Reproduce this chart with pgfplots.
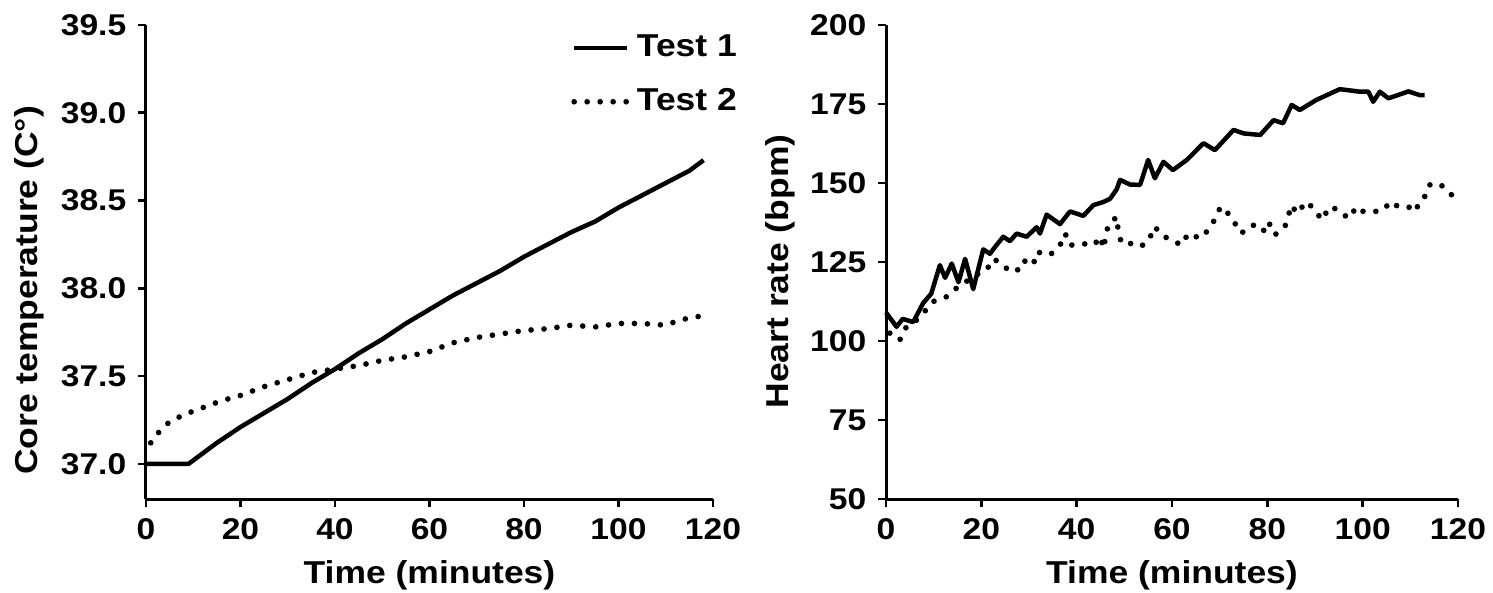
\documentclass[border=0pt]{standalone}
\usepackage{fontspec}
\setmainfont{Liberation Sans}[FakeStretch=1.12]
\usepackage{pgfplots}
\pgfplotsset{compat=1.18}

\pgfplotsset{
  panel/.style={
    scale only axis,
    height=142.2pt,
    xmin=0, xmax=120, xtick={0,20,...,120},
    axis x line*=bottom, axis y line*=left,
    axis line style={line width=0.9pt, -},
    tick align=outside, major tick length=2.4pt,
    tick style={line width=0.8pt, black},
    ticklabel style={font=\fontsize{9}{10}\selectfont\bfseries},
    /pgf/number format/assume math mode=true,
    label style={font=\fontsize{9.5}{11}\selectfont\bfseries},
    xlabel={Time (minutes)},
    xlabel style={at={(axis description cs:0.5,-0.16)}, anchor=center},
    clip=false,
  },
  test1/.style={black, line width=1.35pt, line join=round},
  test2/.style={black, line width=1.7pt, line cap=round, dash pattern=on 0pt off 3.9pt},
}

\begin{document}
\begin{tikzpicture}
\useasboundingbox (-43.8pt,-27.9pt) rectangle (404.1pt,149.7pt);

% core temperature
\begin{axis}[
    panel,
    width=170.1pt,
    ymin=36.8, ymax=39.5,
    ytick={37,37.5,...,39.5},
    yticklabel style={/pgf/number format/.cd, fixed, fixed zerofill, precision=1},
    ylabel={Core temperature (C°)},
    ylabel style={at={(axis description cs:-0.205,0.44)}, anchor=center},
    legend cell align=left,
    legend image code/.code={\draw[#1] (0pt,0pt) -- (16pt,0pt);},
    legend style={draw=none, fill=none, at={(1.055,0.995)}, anchor=north east,
      font=\fontsize{9.5}{11}\selectfont\bfseries, row sep=4pt, inner sep=0pt},
  ]
  \addplot[test1] coordinates {
    (0,37.00) (9,37.00) (12,37.06) (15,37.12) (20,37.21) (25,37.29) (30,37.37)
    (35,37.46) (40,37.54) (45,37.63) (50,37.71) (55,37.80) (60,37.88) (65,37.96)
    (70,38.03) (75,38.10) (80,38.18) (85,38.25) (90,38.32) (95,38.38) (100,38.46)
    (105,38.53) (110,38.60) (115,38.67) (118,38.73)
  };
  \addlegendentry{Test 1}
  \addplot[test2] coordinates {
    (1,37.12) (3,37.19) (5,37.24) (8,37.28) (12,37.32) (16,37.36) (20,37.39)
    (25,37.44) (30,37.48) (35,37.52) (40,37.54) (45,37.56) (50,37.59) (55,37.61)
    (60,37.64) (65,37.69) (70,37.72) (75,37.74) (80,37.76) (85,37.77) (90,37.79)
    (95,37.78) (100,37.80) (105,37.80) (110,37.79) (113,37.82) (117,37.84)
  };
  \addlegendentry{Test 2}
\end{axis}

% heart rate
\begin{axis}[
    panel,
    at={(222pt,0pt)},
    width=171.6pt,
    ymin=50, ymax=200,
    ytick={50,75,...,200},
    ylabel={Heart rate (bpm)},
    ylabel style={at={(axis description cs:-0.185,0.48)}, anchor=center},
  ]
  \addplot[test1] coordinates {
    (0,109) (1,107) (2.2,104.5) (3.5,107) (5.7,106) (7.8,112) (9.5,115)
    (11.3,124) (12.4,120) (13.8,124.5) (15.2,118.6) (16.6,126) (18.3,116.4)
    (20.4,129) (21.8,127.6) (23,130) (24.6,133) (26,131.6) (27.4,134) (29.5,133)
    (31.6,136) (32.3,134) (33.7,140) (36.5,137) (38.6,141) (41.4,139.6) (43.5,143)
    (45.6,144) (47,145) (48.4,148) (49.1,151) (51.2,149.5) (53.3,149.4) (55,157.3)
    (56.4,151.5) (58.2,156.7) (60.2,154.1) (63.1,157.3) (66.6,162.6) (69,160.4)
    (72.9,166.8) (75,165.7) (78.5,165.2) (81.3,169.9) (83.3,168.9) (85.1,174.7)
    (86.8,173.1) (90.3,176.3) (95.2,179.7) (99.4,178.9) (101.2,178.9) (102.2,175.7)
    (103.6,178.9) (105.4,176.8) (108.5,178.4) (109.6,179) (112,177.8) (113,177.8)
  };
  \addplot[test2] coordinates {
    (0.8,102.5) (2.9,100.3) (4,104) (6,106) (7.8,108.8) (9.9,112.5) (12.7,114)
    (15,117) (17,119) (19,121) (21.1,122.5) (22.5,126) (24.3,124.5) (26,121.9)
    (27.8,122.6) (28.8,125.5) (30.9,124) (31.6,128.2) (34.4,127.2) (36.5,130.3)
    (37.6,134) (38.6,130.3) (41.4,130.8) (43.6,130.3) (45,133) (45.6,129.3)
    (46.6,136.7) (48.4,139.3) (48.7,135) (49.4,130.9) (51.2,130.9) (53.3,129.8)
    (55,131.5) (56.4,136.2) (57.8,133.5) (59.9,131.9) (62,130.4) (63.4,134)
    (65.9,132.5) (67.6,135.1) (69,138.5) (70.2,142.5) (72.1,139.9) (74.5,134.1)
    (77,136.7) (79.1,134.6) (80.2,137.8) (81.6,133.6) (83.7,136.2) (85.1,143)
    (86.2,140.4) (88.2,144.1) (90,141.5) (91.4,138.3) (93.1,142.5) (94.9,141.5)
    (97,138.8) (98.8,142.5) (100.2,140.9) (102.3,140.9) (104.4,141.5) (105.8,144.1)
    (107.5,142.5) (109.6,142.5) (111,140.9) (112.1,144.6) (113.4,146.2) (114.1,149.4)
    (115.9,149.9) (117.3,148.4) (119,145.7)
  };
\end{axis}
\end{tikzpicture}
\end{document}
